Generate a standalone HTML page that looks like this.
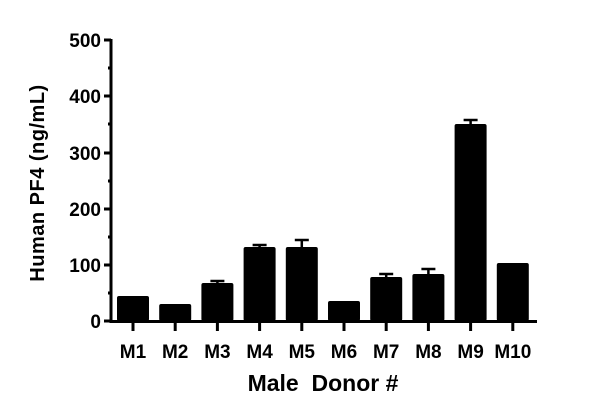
<!DOCTYPE html><html><head><style>body{margin:0;background:#fff}svg{display:block}text{font-family:"Liberation Sans",sans-serif;font-weight:bold;fill:#000}</style></head><body>
<svg width="600" height="419" viewBox="0 0 600 419">
<g stroke="#000" stroke-width="3">
<line x1="111" y1="39" x2="111" y2="323"/>
<line x1="110" y1="321.5" x2="537" y2="321.5"/>
<line x1="104" y1="40" x2="111" y2="40"/><line x1="104" y1="96" x2="111" y2="96"/><line x1="104" y1="153" x2="111" y2="153"/><line x1="104" y1="209" x2="111" y2="209"/><line x1="104" y1="265" x2="111" y2="265"/><line x1="104" y1="321" x2="111" y2="321"/>
<line x1="108" y1="68" x2="111" y2="68"/><line x1="108" y1="124" x2="111" y2="124"/><line x1="108" y1="181" x2="111" y2="181"/><line x1="108" y1="237" x2="111" y2="237"/><line x1="108" y1="293" x2="111" y2="293"/>
</g>
<g font-size="19" text-anchor="end">
<text x="101" y="47">500</text><text x="101" y="103">400</text><text x="101" y="160">300</text><text x="101" y="216">200</text><text x="101" y="272">100</text><text x="101" y="328">0</text>
</g>
<text transform="translate(44,183) rotate(-90)" font-size="20" letter-spacing="0.5" text-anchor="middle">Human PF4 (ng/mL)</text>
<g fill="#000">
<rect x="117" y="296" width="32" height="25" rx="2"/>
<rect x="159.2" y="304" width="32" height="17" rx="2"/>
<rect x="201.4" y="283" width="32" height="38" rx="2"/>
<rect x="243.6" y="247" width="32" height="74" rx="2"/>
<rect x="285.8" y="247" width="32" height="74" rx="2"/>
<rect x="328" y="301" width="32" height="20" rx="2"/>
<rect x="370.2" y="277" width="32" height="44" rx="2"/>
<rect x="412.4" y="274" width="32" height="47" rx="2"/>
<rect x="454.6" y="124" width="32" height="197" rx="2"/>
<rect x="496.8" y="263" width="32" height="58" rx="2"/>
</g>
<g stroke="#000" stroke-width="2.5">
<line x1="217.4" y1="281" x2="217.4" y2="283"/><line x1="210.4" y1="281" x2="224.4" y2="281"/>
<line x1="259.6" y1="245" x2="259.6" y2="247"/><line x1="252.6" y1="245" x2="266.6" y2="245"/>
<line x1="301.8" y1="240" x2="301.8" y2="247"/><line x1="294.8" y1="240" x2="308.8" y2="240"/>
<line x1="386.2" y1="274" x2="386.2" y2="277"/><line x1="379.2" y1="274" x2="393.2" y2="274"/>
<line x1="428.4" y1="269" x2="428.4" y2="274"/><line x1="421.4" y1="269" x2="435.4" y2="269"/>
<line x1="470.6" y1="120" x2="470.6" y2="124"/><line x1="463.6" y1="120" x2="477.6" y2="120"/>
</g>
<g stroke="#000" stroke-width="3">
<line x1="133" y1="321" x2="133" y2="331"/><line x1="175.2" y1="321" x2="175.2" y2="331"/><line x1="217.4" y1="321" x2="217.4" y2="331"/><line x1="259.6" y1="321" x2="259.6" y2="331"/><line x1="301.8" y1="321" x2="301.8" y2="331"/><line x1="344" y1="321" x2="344" y2="331"/><line x1="386.2" y1="321" x2="386.2" y2="331"/><line x1="428.4" y1="321" x2="428.4" y2="331"/><line x1="470.6" y1="321" x2="470.6" y2="331"/><line x1="512.8" y1="321" x2="512.8" y2="331"/>
</g>
<g font-size="19" text-anchor="middle">
<text x="133" y="358">M1</text><text x="175.2" y="358">M2</text><text x="217.4" y="358">M3</text><text x="259.6" y="358">M4</text><text x="301.8" y="358">M5</text><text x="344" y="358">M6</text><text x="386.2" y="358">M7</text><text x="428.4" y="358">M8</text><text x="470.6" y="358">M9</text><text x="512.8" y="358">M10</text>
</g>
<text x="323" y="391" font-size="23" text-anchor="middle" xml:space="preserve">Male  Donor #</text>
</svg></body></html>
